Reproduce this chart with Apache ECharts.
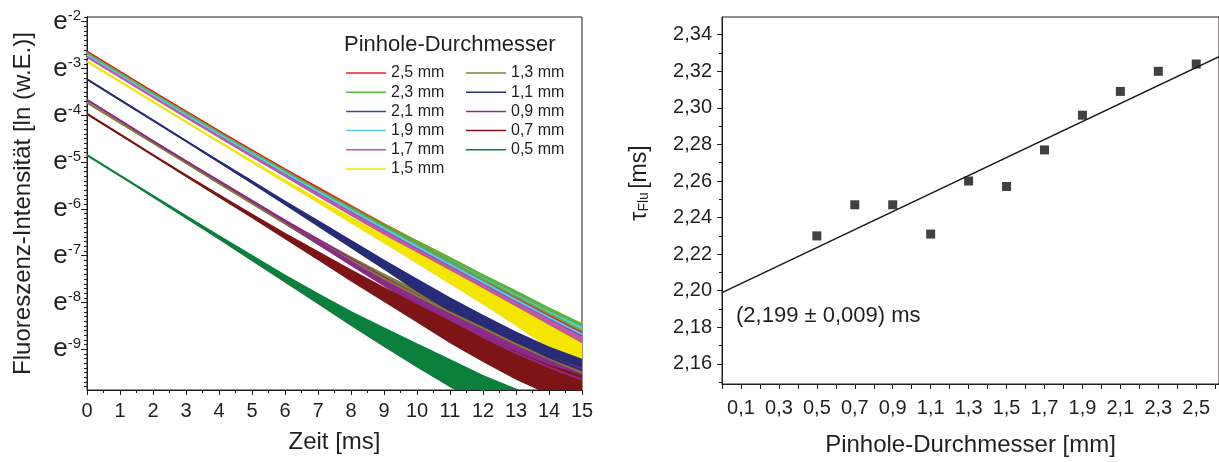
<!DOCTYPE html>
<html><head><meta charset="utf-8">
<script src="https://cdn.jsdelivr.net/npm/echarts@6/dist/echarts.min.js"></script>
<style>html,body{margin:0;padding:0;background:#fff}#c{width:1219px;height:462px}</style>
</head><body><div id="c"></div>
<script>
// ---------- data ----------
const timeMs = [0,1,2,3,4,5,6,7,8,9,10,11,12,13,14,15];
const curveNames = ['2,5 mm','2,3 mm','2,1 mm','1,9 mm','1,7 mm','1,5 mm','1,3 mm','1,1 mm','0,9 mm','0,7 mm','0,5 mm'];
// ln(intensity) centre of each decay curve at timeMs
const lnI_25 = [-2.64,-3.07,-3.50,-3.92,-4.34,-4.75,-5.16,-5.56,-5.96,-6.36,-6.75,-7.13,-7.51,-7.89,-8.27,-8.64];
const lnI_23 = [-2.67,-3.10,-3.53,-3.95,-4.37,-4.78,-5.19,-5.59,-5.98,-6.37,-6.75,-7.13,-7.50,-7.87,-8.24,-8.60];
const lnI_21 = [-2.72,-3.15,-3.58,-4.00,-4.42,-4.83,-5.24,-5.64,-6.04,-6.43,-6.82,-7.20,-7.58,-7.96,-8.33,-8.70];
const lnI_19 = [-2.71,-3.14,-3.57,-3.99,-4.41,-4.82,-5.23,-5.63,-6.03,-6.42,-6.81,-7.19,-7.57,-7.95,-8.32,-8.68];
const lnI_17 = [-2.75,-3.18,-3.61,-4.04,-4.46,-4.88,-5.29,-5.70,-6.10,-6.50,-6.89,-7.28,-7.67,-8.06,-8.44,-8.82];
const lnI_15 = [-2.85,-3.28,-3.71,-4.14,-4.57,-4.99,-5.41,-5.83,-6.24,-6.65,-7.05,-7.46,-7.87,-8.29,-8.73,-9.15];
const lnI_13 = [-3.73,-4.16,-4.59,-5.02,-5.45,-5.87,-6.29,-6.70,-7.10,-7.49,-7.86,-8.21,-8.55,-8.89,-9.20,-9.50];
const lnI_11 = [-3.23,-3.67,-4.11,-4.55,-4.99,-5.43,-5.87,-6.31,-6.75,-7.19,-7.63,-8.05,-8.45,-8.83,-9.17,-9.45];
const lnI_09 = [-3.67,-4.11,-4.55,-4.98,-5.41,-5.84,-6.27,-6.70,-7.13,-7.55,-7.96,-8.36,-8.74,-9.08,-9.38,-9.65];
const lnI_07 = [-3.97,-4.41,-4.85,-5.29,-5.72,-6.15,-6.58,-7.00,-7.42,-7.83,-8.23,-8.63,-9.00,-9.35,-9.65,-9.90];
const lnI_05 = [-4.85,-5.29,-5.73,-6.17,-6.61,-7.05,-7.49,-7.92,-8.34,-8.74,-9.13,-9.51,-9.88,-10.20,-10.45,-10.70];
// half width of the noise band (ln units) at timeMs
const noiseTop    = [0.02,0.02,0.02,0.02,0.02,0.02,0.03,0.04,0.05,0.06,0.08,0.10,0.11,0.13,0.14,0.16];
const noiseYellow = [0.02,0.02,0.02,0.02,0.02,0.03,0.04,0.05,0.07,0.09,0.12,0.15,0.18,0.21,0.25,0.28];
const noiseMid    = [0.02,0.02,0.02,0.02,0.03,0.04,0.05,0.07,0.09,0.11,0.14,0.16,0.19,0.21,0.23,0.25];
const noiseLow    = [0.02,0.02,0.02,0.03,0.04,0.05,0.07,0.10,0.13,0.16,0.20,0.24,0.27,0.30,0.32,0.35];
const noiseGreen  = [0.02,0.02,0.03,0.04,0.05,0.07,0.09,0.12,0.16,0.21,0.26,0.30,0.33,0.36,0.38,0.40];

const pinholeMm = [0.5,0.7,0.9,1.1,1.3,1.5,1.7,1.9,2.1,2.3,2.5];
const tauMs     = [2.230,2.247,2.247,2.231,2.260,2.257,2.277,2.296,2.309,2.320,2.324];
const fitLine   = [[0,2.199],[2.62,2.328]];
const fitLabel  = '(2,199 ± 0,009) ms';

const leftYTicks  = [-9,-8,-7,-6,-5,-4,-3,-2];
const rightYTicks = [2.16,2.18,2.20,2.22,2.24,2.26,2.28,2.30,2.32,2.34];
const rightYMinor = [2.15,2.17,2.19,2.21,2.23,2.25,2.27,2.29,2.31,2.33,2.35];

// ---------- style ----------
const curves = [lnI_25,lnI_23,lnI_21,lnI_19,lnI_17,lnI_15,lnI_13,lnI_11,lnI_09,lnI_07,lnI_05];
const noises = [noiseTop,noiseTop,noiseTop,noiseTop,noiseTop,noiseYellow,noiseMid,noiseMid,noiseMid,noiseLow,noiseGreen];
const colors = ['#ee1c24','#5bb43a','#2c4fb0','#5cc6dd','#c257a8','#f4e600','#808034','#282b75','#8b2a88','#7d1416','#0c7f3d'];
const FONT = 'Liberation Sans, Arial, sans-serif';
const TXT = '#231f20';
const LYMIN = -9.87, LYMAX = -1.9;
const leftYMinor = [];
for (let k = -98; k <= -19; k++) { if (k % 10 !== 0) leftYMinor.push(k / 10); }

const chart = echarts.init(document.getElementById('c'), null, {renderer: 'canvas'});

const series = [];
curves.forEach((vals, i) => {
  const noise = noises[i];
  const col = colors[i];
  series.push({
    type: 'custom', name: '_band' + i, xAxisIndex: 0, yAxisIndex: 0, silent: true,
    data: [[i]],
    renderItem: (params, api) => {
      const up = [], lo = [];
      timeMs.forEach((t, k) => {
        up.push(api.coord([t, vals[k] + noise[k]]));
        lo.push(api.coord([t, vals[k] - noise[k]]));
      });
      const pts = up.concat(lo.reverse());
      const cs = params.coordSys;
      return {
        type: 'group',
        clipPath: {type: 'rect', shape: {x: cs.x, y: cs.y, width: cs.width, height: cs.height}},
        children: [{type: 'polygon', shape: {points: pts}, style: {fill: col, stroke: null}}]
      };
    }
  });
  series.push({
    type: 'line', name: curveNames[i], xAxisIndex: 0, yAxisIndex: 0,
    data: timeMs.map((t, k) => [t, vals[k]]),
    symbol: 'none', clip: true, silent: true,
    lineStyle: {color: col, width: 2},
    itemStyle: {color: col}
  });
});

series.push({
  type: 'line', name: 'fit', xAxisIndex: 1, yAxisIndex: 2, data: fitLine,
  symbol: 'none', silent: true, lineStyle: {color: '#1a1a1a', width: 1.5}
});
series.push({
  type: 'scatter', name: 'tau', xAxisIndex: 1, yAxisIndex: 2,
  data: pinholeMm.map((p, k) => [p, tauMs[k]]),
  symbol: 'rect', symbolSize: 9, itemStyle: {color: '#111'}, silent: true
});

const axisCol = '#231f20';
const baseLabel = {color: TXT, fontFamily: FONT, fontSize: 20};

const option = {
  animation: false,
  backgroundColor: '#fff',
  textStyle: {fontFamily: FONT},
  grid: [
    {left: 87, top: 17, width: 495, height: 373, show: true, borderColor: axisCol, borderWidth: 1, backgroundColor: 'transparent'},
    {left: 722, top: 17, width: 502, height: 374.7, show: true, borderColor: axisCol, borderWidth: 1, backgroundColor: 'transparent'}
  ],
  xAxis: [
    {
      type: 'value', gridIndex: 0, min: 0, max: 15, interval: 1,
      axisLine: {show: true, lineStyle: {color: axisCol}},
      axisTick: {show: true, length: 5, lineStyle: {color: axisCol}},
      minorTick: {show: true, splitNumber: 2, length: 3, lineStyle: {color: axisCol}},
      splitLine: {show: false},
      axisLabel: Object.assign({margin: 11}, baseLabel),
      name: 'Zeit [ms]', nameLocation: 'middle', nameGap: 40,
      nameTextStyle: {color: TXT, fontFamily: FONT, fontSize: 24}
    },
    {
      type: 'value', gridIndex: 1, min: 0, max: 2.62, interval: 0.1,
      axisLine: {show: true, onZero: false, lineStyle: {color: axisCol}},
      axisTick: {show: true, length: 5, lineStyle: {color: axisCol}},
      splitLine: {show: false},
      axisLabel: Object.assign({margin: 14, showMaxLabel: false,
        formatter: v => { const k = Math.round(v * 10); return (k % 2 === 1) ? (k / 10).toFixed(1).replace('.', ',') : ''; }
      }, baseLabel),
      name: 'Pinhole-Durchmesser [mm]', nameLocation: 'middle', nameGap: 49,
      nameTextStyle: {color: TXT, fontFamily: FONT, fontSize: 24}
    }
  ],
  yAxis: [
    {
      type: 'value', gridIndex: 0, min: LYMIN, max: LYMAX,
      axisLine: {show: true, onZero: false, lineStyle: {color: axisCol}},
      axisTick: {show: true, length: 6, customValues: leftYTicks, lineStyle: {color: axisCol}},
      splitLine: {show: false},
      axisLabel: {
        customValues: leftYTicks, margin: 6, color: TXT, fontFamily: FONT,
        formatter: v => '{e|e}{s|' + Math.round(v) + '}',
        rich: {
          e: {fontSize: 26, lineHeight: 26, verticalAlign: 'bottom', padding: [4, 0, 0, 0], color: TXT, fontFamily: FONT},
          s: {fontSize: 15, lineHeight: 15, verticalAlign: 'top', color: TXT, fontFamily: FONT}
        }
      },
      name: 'Fluoreszenz-Intensität [ln (w.E.)]', nameLocation: 'middle', nameGap: 52,
      nameTextStyle: {color: TXT, fontFamily: FONT, fontSize: 24}
    },
    {
      type: 'value', gridIndex: 0, min: LYMIN, max: LYMAX, position: 'left',
      axisLine: {show: false},
      axisTick: {show: true, length: 3, customValues: leftYMinor, lineStyle: {color: axisCol}},
      axisLabel: {show: false},
      splitLine: {show: false}
    },
    {
      type: 'value', gridIndex: 1, min: 2.149, max: 2.3497,
      axisLine: {show: true, onZero: false, lineStyle: {color: axisCol}},
      axisTick: {show: true, length: 5, customValues: rightYTicks, lineStyle: {color: axisCol}},
      splitLine: {show: false},
      axisLabel: Object.assign({customValues: rightYTicks, margin: 10,
        formatter: v => v.toFixed(2).replace('.', ',')}, baseLabel)
    },
    {
      type: 'value', gridIndex: 1, min: 2.149, max: 2.3497, position: 'left',
      axisLine: {show: false},
      axisTick: {show: true, length: 3, customValues: rightYMinor, lineStyle: {color: axisCol}},
      axisLabel: {show: false},
      splitLine: {show: false}
    }
  ],
  legend: [
    {
      data: curveNames.slice(0, 6), orient: 'vertical', left: 341, top: 60,
      icon: 'rect', itemWidth: 40, itemHeight: 1.5, itemGap: 3.2, selectedMode: false,
      textStyle: {color: TXT, fontFamily: FONT, fontSize: 16, lineHeight: 16}
    },
    {
      data: curveNames.slice(6), orient: 'vertical', left: 461, top: 60,
      icon: 'rect', itemWidth: 40, itemHeight: 1.5, itemGap: 3.2, selectedMode: false,
      textStyle: {color: TXT, fontFamily: FONT, fontSize: 16, lineHeight: 16}
    }
  ],
  graphic: [
    {type: 'text', left: 344, top: 34, silent: true,
      style: {text: 'Pinhole-Durchmesser', fill: TXT, font: '22px ' + FONT}},
    {type: 'text', left: 736, top: 305, silent: true,
      style: {text: fitLabel, fill: TXT, font: '22px ' + FONT}},
    {type: 'text', x: 638, y: 183, rotation: Math.PI / 2, silent: true,
      style: {
        text: '{t|τ}{s|Flu} {t|[ms]}', align: 'center', verticalAlign: 'middle', fill: TXT,
        rich: {
          t: {fontSize: 23, lineHeight: 26, verticalAlign: 'bottom', fill: TXT, fontFamily: FONT},
          s: {fontSize: 14, lineHeight: 14, verticalAlign: 'bottom', fill: TXT, fontFamily: FONT}
        }
      }}
  ],
  series: series
};
chart.setOption(option);
</script></body></html>
